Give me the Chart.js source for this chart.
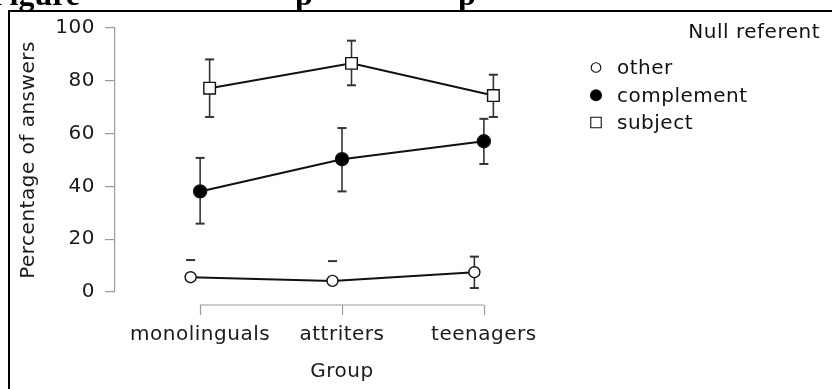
<!DOCTYPE html>
<html><head><meta charset="utf-8">
<script src="https://cdn.jsdelivr.net/npm/chart.js@4/dist/chart.umd.min.js"></script>
<style>html,body{margin:0;padding:0;background:#fff}#wrap{width:832px;height:389px;position:relative}</style>
</head><body><div id="wrap"><canvas id="c" width="832" height="389"></canvas></div>
<script>
const categories = ['monolinguals', 'attriters', 'teenagers'];
const seriesNames = ['other', 'complement', 'subject'];
const otherVals = [5.6, 4.2, 7.5];
const otherHigh = [12.1, 11.7, 13.4];
const otherLow = [null, null, 1.5];
const complementVals = [38.1, 50.3, 57.1];
const complementHigh = [50.8, 62.1, 65.6];
const complementLow = [25.9, 38.1, 48.5];
const subjectVals = [77.2, 86.6, 74.4];
const subjectHigh = [88.1, 95.2, 82.3];
const subjectLow = [66.3, 78.3, 66.3];
const yTicks = [0, 20, 40, 60, 80, 100];
const xTitle = 'Group';
const yTitle = 'Percentage of answers';
const legendTitle = 'Null referent';

const FONT = '"DejaVu Sans", sans-serif';
const SPACING = '0.5px';
const dodge = [-0.067, 0, 0.067];
const styles = [
  {pointStyle: 'circle', radius: 5.5, bg: '#fff', lr: 4.8, lbg: '#fff'},
  {pointStyle: 'circle', radius: 6.5, bg: '#000', lr: 5.5, lbg: '#000'},
  {pointStyle: 'rect', radius: 8.2, bg: '#fff', lr: 7.4, lbg: '#fff'}
];
const allVals = [otherVals, complementVals, subjectVals];
const allHigh = [otherHigh, complementHigh, subjectHigh];
const allLow = [otherLow, complementLow, subjectLow];

const datasets = seriesNames.map((name, d) => ({
  label: name,
  data: allVals[d].map((v, i) => ({x: i + dodge[d], y: v})),
  borderColor: '#111',
  borderWidth: 2,
  pointStyle: styles[d].pointStyle,
  pointRadius: styles[d].radius,
  pointHoverRadius: styles[d].radius,
  pointBackgroundColor: styles[d].bg,
  pointBorderColor: '#111',
  pointBorderWidth: 1.4,
  tension: 0,
  clip: false
}));

const spacing = {
  id: 'spacing',
  beforeUpdate(chart) { chart.ctx.letterSpacing = SPACING; },
  beforeLayout(chart) { chart.ctx.letterSpacing = SPACING; },
  beforeDraw(chart) { chart.ctx.letterSpacing = SPACING; }
};

const errorBars = {
  id: 'errorBars',
  beforeDatasetsDraw(chart) {
    const ctx = chart.ctx, ys = chart.scales.y;
    ctx.save();
    ctx.strokeStyle = '#333';
    chart.data.datasets.forEach((ds, d) => {
      const meta = chart.getDatasetMeta(d);
      meta.data.forEach((pt, i) => {
        const x = pt.x;
        const hi = allHigh[d][i], lo = allLow[d][i];
        const yh = ys.getPixelForValue(hi);
        ctx.lineWidth = 2;
        ctx.beginPath(); ctx.moveTo(x - 4.5, yh); ctx.lineTo(x + 4.5, yh); ctx.stroke();
        if (lo !== null) {
          const yl = ys.getPixelForValue(lo);
          ctx.lineWidth = 1.6;
          ctx.beginPath(); ctx.moveTo(x, yh); ctx.lineTo(x, yl); ctx.stroke();
          ctx.lineWidth = 2;
          ctx.beginPath(); ctx.moveTo(x - 4.5, yl); ctx.lineTo(x + 4.5, yl); ctx.stroke();
        }
      });
    });
    ctx.restore();
  }
};

const decor = {
  id: 'decor',
  afterDraw(chart) {
    const ctx = chart.ctx, xs = chart.scales.x;
    ctx.save();
    const x0 = xs.getPixelForValue(0), x2 = xs.getPixelForValue(categories.length - 1);
    const ay = chart.chartArea.bottom + 13;
    ctx.strokeStyle = '#9a9a9a';
    ctx.lineWidth = 1.2;
    ctx.beginPath(); ctx.moveTo(x0, ay); ctx.lineTo(x2, ay); ctx.stroke();
    categories.forEach((c, i) => {
      const px = Math.round(xs.getPixelForValue(i)) + 0.5;
      ctx.beginPath(); ctx.moveTo(px, ay); ctx.lineTo(px, ay + 10); ctx.stroke();
    });
    ctx.strokeStyle = '#000';
    ctx.lineWidth = 2;
    ctx.beginPath(); ctx.moveTo(9, 389); ctx.lineTo(9, 11); ctx.lineTo(832, 11); ctx.stroke();
    ctx.fillStyle = '#000';
    ctx.letterSpacing = '0px';
    ctx.font = 'bold 32px "Liberation Serif", serif';
    ctx.textBaseline = 'alphabetic';
    ctx.textAlign = 'left';
    ctx.fillText('Figure', -10, 5);
    ctx.fillText('p', 295, 5);
    ctx.fillText('p', 458, 5);
    ctx.letterSpacing = SPACING;
    ctx.fillStyle = '#111';
    ctx.font = '20px ' + FONT;
    ctx.textAlign = 'right';
    ctx.fillText(legendTitle, 820, 38);
    ctx.textAlign = 'left';
    const rows = [74, 101.7, 129];
    seriesNames.forEach((name, d) => {
      const cy = rows[d] - 6.5;
      const st = styles[d];
      ctx.strokeStyle = '#111';
      ctx.lineWidth = 1.1;
      ctx.fillStyle = st.lbg;
      Chart.helpers.drawPoint(ctx, {pointStyle: st.pointStyle, radius: st.lr, borderWidth: 1.1}, 596, cy);
      ctx.fillStyle = '#111';
      ctx.fillText(name, 617, rows[d]);
    });
    ctx.restore();
  }
};

new Chart(document.getElementById('c'), {
  type: 'line',
  data: {datasets},
  options: {
    responsive: false,
    devicePixelRatio: 1,
    animation: false,
    layout: {padding: {left: 0, top: 28, right: 263, bottom: 0}},
    plugins: {legend: {display: false}, tooltip: {enabled: false}},
    scales: {
      x: {
        type: 'linear', min: -0.6, max: 2.6,
        afterBuildTicks: (s) => { s.ticks = categories.map((c, i) => ({value: i})); },
        afterFit: (s) => { s.height = 97; },
        grid: {display: false, drawTicks: false},
        border: {display: false},
        ticks: {
          padding: 31,
          color: '#1a1a1a',
          font: {family: FONT, size: 20},
          autoSkip: false, maxRotation: 0,
          callback: (v) => categories[v]
        },
        title: {display: true, text: xTitle, color: '#1a1a1a', font: {family: FONT, size: 20}, padding: {top: 0, bottom: 5}}
      },
      y: {
        min: 0, max: 100,
        afterBuildTicks: (s) => { s.ticks = yTicks.map(v => ({value: v})); },
        afterFit: (s) => { s.width = 115; },
        grid: {drawOnChartArea: false, drawTicks: true, tickLength: 10, color: '#9a9a9a', lineWidth: 1.2},
        border: {display: true, color: '#9a9a9a', width: 1.2},
        ticks: {padding: 10, color: '#1a1a1a', font: {family: FONT, size: 20}},
        title: {display: true, text: yTitle, color: '#1a1a1a', font: {family: FONT, size: 20}, padding: {top: 17, bottom: 0}}
      }
    }
  },
  plugins: [spacing, errorBars, decor]
});
</script>
</body></html>
